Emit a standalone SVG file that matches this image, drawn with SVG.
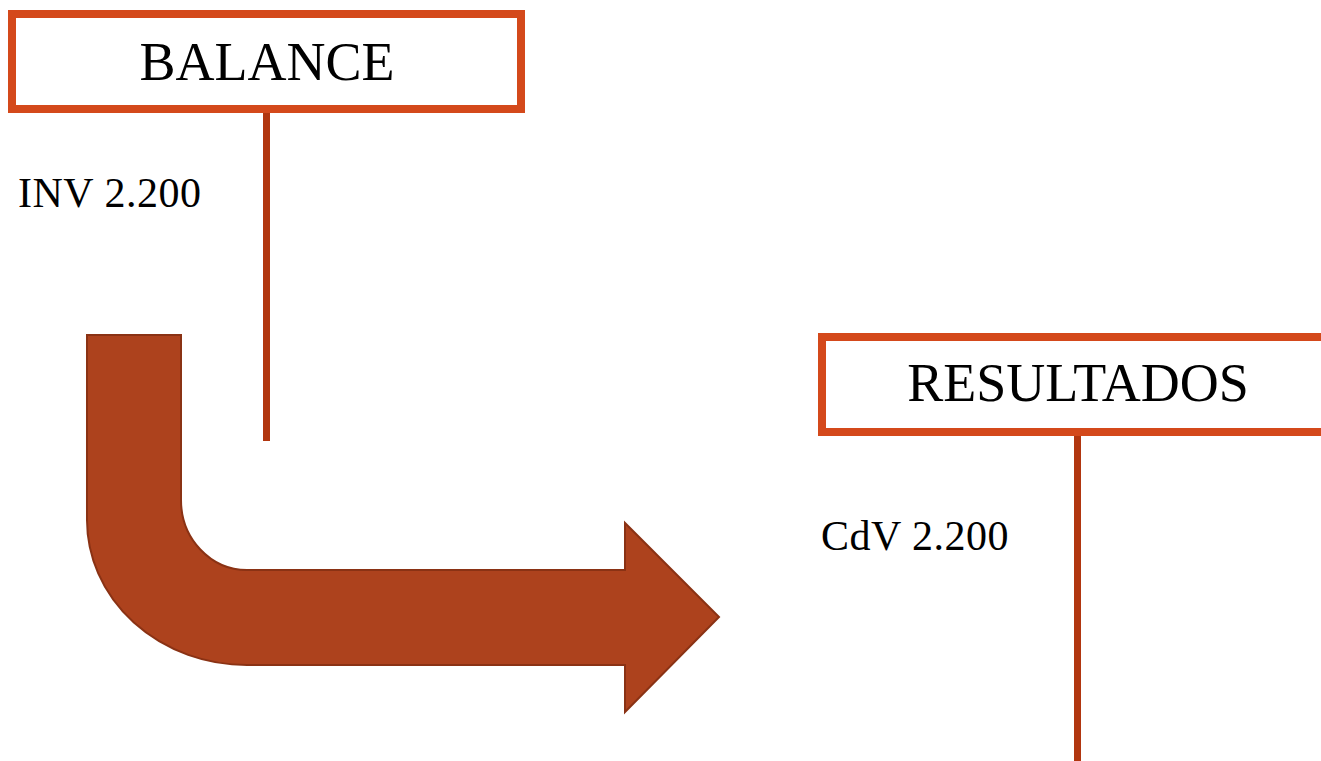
<svg xmlns="http://www.w3.org/2000/svg" width="1321" height="761" viewBox="0 0 1321 761">
  <style>
    .box { fill: #ffffff; stroke: #D4491B; stroke-width: 8; }
    .stem { stroke: #B1360F; stroke-width: 7; fill: none; }
    .title { font-family: "Liberation Serif", "Times New Roman", serif; font-size: 54px; fill: #000000; }
    .entry { font-family: "Liberation Serif", "Times New Roman", serif; font-size: 42px; fill: #000000; letter-spacing: 0.5px; }
    .flow { fill: #AD421D; stroke: #8A3214; stroke-width: 2; }
  </style>
  <rect width="1321" height="761" fill="#ffffff"/>

  <g id="connectors">
    <line class="stem" x1="266.5" y1="113" x2="266.5" y2="441"/>
    <line class="stem" x1="1077.5" y1="436" x2="1077.5" y2="761"/>
  </g>

  <g id="balance">
    <rect class="box" x="12" y="14" width="509" height="95"/>
    <text class="title" x="267" y="80" text-anchor="middle">BALANCE</text>
  </g>

  <g id="inv">
    <text class="entry" x="18" y="207">INV 2.200</text>
  </g>

  <g id="resultados">
    <rect class="box" x="822" y="337" width="510" height="95"/>
    <text class="title" x="1078" y="401" text-anchor="middle">RESULTADOS</text>
  </g>

  <g id="cdv">
    <text class="entry" x="821" y="550">CdV 2.200</text>
  </g>

  <g id="bent-arrow">
    <path class="flow" d="M87,335 L181,335 L181,500 A 66 70 0 0 0 247,570 L625,570 L625,523 L719,617 L625,712 L625,665 L247,665 A 160 145 0 0 1 87,520 Z"/>
  </g>
</svg>
